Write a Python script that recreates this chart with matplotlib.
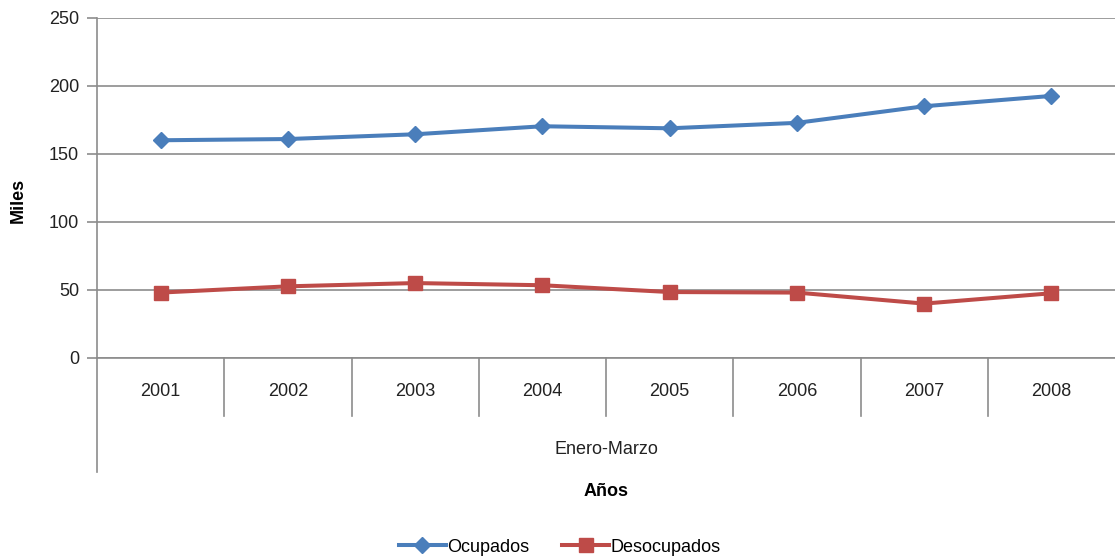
import numpy as np
import matplotlib.pyplot as plt

plt.rcParams['font.family'] = ['Liberation Sans', 'DejaVu Sans']

# data
years = ['2001', '2002', '2003', '2004', '2005', '2006', '2007', '2008']
ocupados = [160.1, 161.0, 164.5, 170.4, 168.9, 172.9, 185.1, 192.7]
desocupados = [48.1, 52.7, 55.1, 53.5, 48.5, 48.1, 40.0, 47.6]
group_label = 'Enero-Marzo'

W, H = 1115, 556
fig = plt.figure(figsize=(W / 100, H / 100), dpi=100)
ax = fig.add_axes([97 / W, (H - 358) / H, 1018 / W, 340 / H])

grid_c = '#8c8c8c'
x = np.arange(len(years))

ax.plot(x, ocupados, color='#4A7EBB', lw=2.9, marker='D', ms=8.5,
        label='Ocupados', zorder=3)
ax.plot(x, desocupados, color='#BE4B48', lw=2.9, marker='s', ms=10.5,
        label='Desocupados', zorder=3)

ax.set_xlim(-0.5, len(years) - 0.5)
ax.set_ylim(0, 250)
ax.set_yticks(range(0, 251, 50))
ax.yaxis.grid(True, color=grid_c, lw=1.2)
ax.set_axisbelow(True)
ax.tick_params(axis='y', length=7, width=1.2, color=grid_c, labelsize=13,
               pad=6, labelcolor='#222222')
ax.set_xticks([])
for s in ['top', 'right']:
    ax.spines[s].set_visible(False)
for s in ['left', 'bottom']:
    ax.spines[s].set_color(grid_c)
    ax.spines[s].set_linewidth(1.2)

# category separators and multi-level labels below the axis
tr = ax.get_xaxis_transform()
px = 1 / 340
for b in np.arange(0.5, len(years) - 0.5, 1.0):
    ax.plot([b, b], [0, -58 * px], transform=tr, color=grid_c, lw=1.2,
            clip_on=False)
ax.plot([-0.5, -0.5], [0, -114 * px], transform=tr, color=grid_c, lw=1.2,
        clip_on=False)
for xi, yr in zip(x, years):
    ax.text(xi, -33 * px, yr, transform=tr, ha='center', va='center',
            fontsize=13, color='#222222')
ax.text((len(years) - 1) / 2, -92 * px, group_label, transform=tr,
        ha='center', va='center', fontsize=13, color='#222222')

fig.text(606 / W, 1 - 492 / H, 'Años', ha='center', va='center',
         fontsize=13, fontweight='bold')
fig.text(18 / W, 1 - 200 / H, 'Miles', ha='center', va='center',
         rotation=90, fontsize=13, fontweight='bold')

fig.legend(loc='center', bbox_to_anchor=(560 / W, 1 - 547 / H), ncol=2,
           frameon=False, fontsize=13, handlelength=2.6, handletextpad=0.1,
           columnspacing=1.8)

fig.savefig('out.png', dpi=100)
